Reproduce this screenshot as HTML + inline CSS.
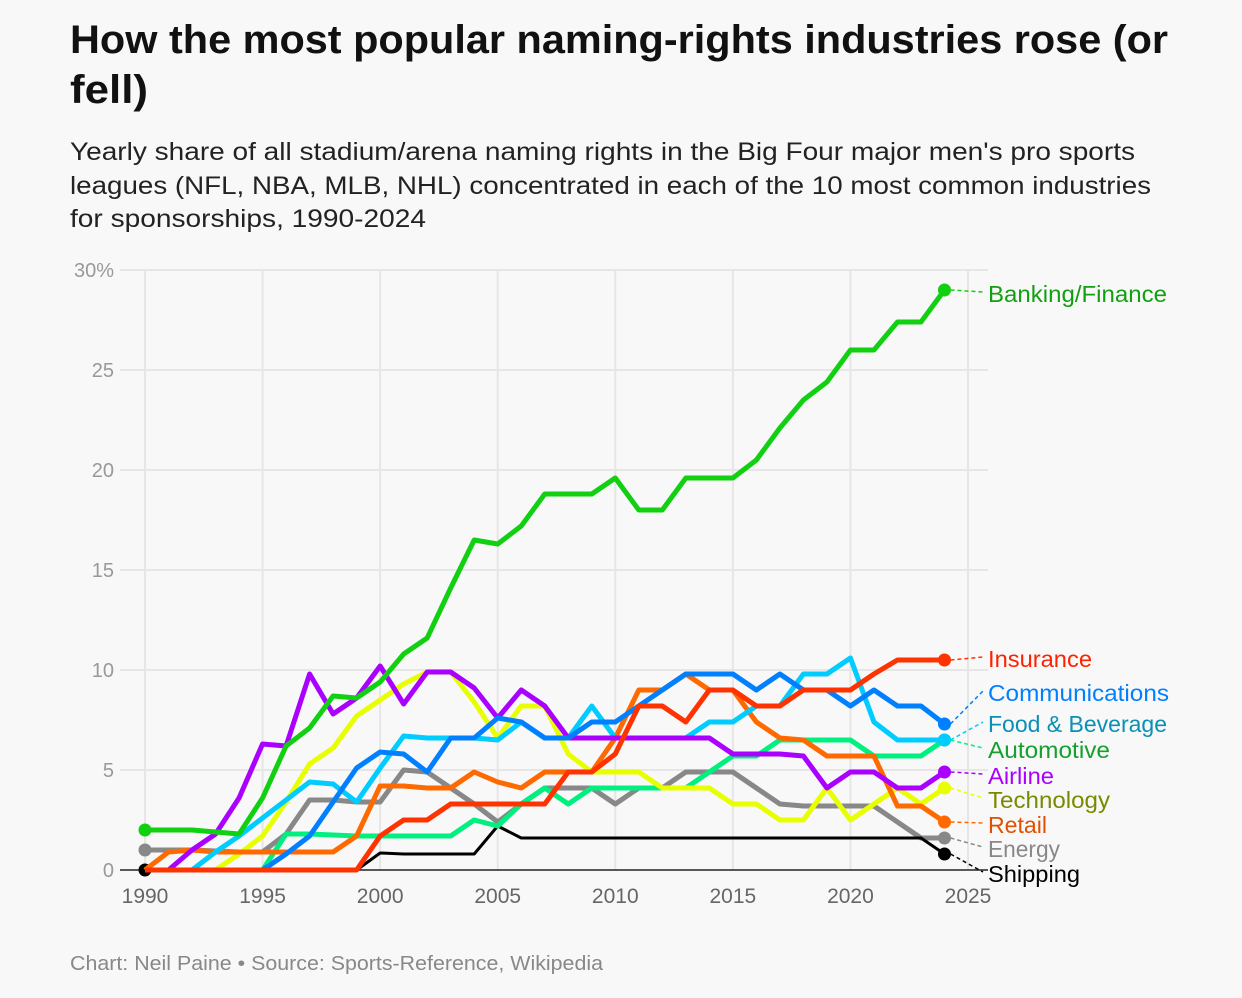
<!DOCTYPE html>
<html><head><meta charset="utf-8"><style>
body{margin:0;background:#f8f8f8;font-family:"Liberation Sans",Arial,sans-serif;}
svg{display:block}
</style></head><body>
<svg width="1242" height="998">
<rect width="1242" height="998" fill="#f8f8f8"/>
<text x="70" y="53" font-size="40" font-weight="bold" fill="#111" textLength="1098" lengthAdjust="spacingAndGlyphs">How the most popular naming-rights industries rose (or</text>
<text x="70" y="103" font-size="40" font-weight="bold" fill="#111" textLength="78" lengthAdjust="spacingAndGlyphs">fell)</text>
<g font-size="25" fill="#222">
<text x="70" y="160" textLength="1065" lengthAdjust="spacingAndGlyphs">Yearly share of all stadium/arena naming rights in the Big Four major men's pro sports</text>
<text x="70" y="194" textLength="1081" lengthAdjust="spacingAndGlyphs">leagues (NFL, NBA, MLB, NHL) concentrated in each of the 10 most common industries</text>
<text x="70" y="227" textLength="356" lengthAdjust="spacingAndGlyphs">for sponsorships, 1990-2024</text>
</g>
<g id="grid"></g>
<g id="series"></g>
<g id="labels"></g>
<text x="70" y="970" font-size="20" fill="#888" textLength="533" lengthAdjust="spacingAndGlyphs">Chart: Neil Paine • Source: Sports-Reference, Wikipedia</text>
</svg>
<script>
const years=[];for(let y=1990;y<=2024;y++)years.push(y);
const yTicks=[0,5,10,15,20,25,30];
const xTicks=[1990,1995,2000,2005,2010,2015,2020,2025];
const banking=[2.0,2.0,2.0,1.9,1.8,3.6,6.2,7.1,8.7,8.6,9.4,10.8,11.6,14.1,16.5,16.3,17.2,18.8,18.8,18.8,19.6,18.0,18.0,19.6,19.6,19.6,20.5,22.1,23.5,24.4,26.0,26.0,27.4,27.4,29.0];
const insurance=[0,0,0,0,0,0,0,0,0,0,1.7,2.5,2.5,3.3,3.3,3.3,3.3,3.3,4.9,4.9,5.8,8.2,8.2,7.4,9.0,9.0,8.2,8.2,9.0,9.0,9.0,9.8,10.5,10.5,10.5];
const communications=[0,0,0,0,0,0,0.8,1.7,3.4,5.1,5.9,5.8,4.9,6.6,6.6,7.6,7.4,6.6,6.6,7.4,7.4,8.2,9.0,9.8,9.8,9.8,9.0,9.8,9.0,9.0,8.2,9.0,8.2,8.2,7.3];
const foodBev=[0,0,0,0.9,1.7,2.6,3.5,4.4,4.3,3.4,5.1,6.7,6.6,6.6,6.6,6.5,7.4,6.6,6.6,8.2,6.6,6.6,6.6,6.6,7.4,7.4,8.2,8.2,9.8,9.8,10.6,7.4,6.5,6.5,6.5];
const automotive=[0,0,0,0,0,0,1.8,1.8,1.75,1.7,1.7,1.7,1.7,1.7,2.5,2.2,3.3,4.1,3.3,4.1,4.1,4.1,4.1,4.1,4.9,5.7,5.7,6.5,6.5,6.5,6.5,5.7,5.7,5.7,6.5];
const airline=[0,0,1.0,1.8,3.6,6.3,6.2,9.8,7.8,8.6,10.2,8.3,9.9,9.9,9.1,7.6,9.0,8.2,6.6,6.6,6.6,6.6,6.6,6.6,6.6,5.8,5.8,5.8,5.7,4.1,4.9,4.9,4.1,4.1,4.9];
const technology=[0,0,0,0,0.8,1.7,3.4,5.3,6.1,7.7,8.5,9.3,9.9,9.9,8.4,6.6,8.2,8.2,5.8,4.9,4.9,4.9,4.1,4.1,4.1,3.3,3.3,2.5,2.5,4.1,2.5,3.3,4.1,3.3,4.1];
const retail=[0,0.9,1.0,0.9,0.9,0.9,0.9,0.9,0.9,1.7,4.2,4.2,4.1,4.1,4.9,4.4,4.1,4.9,4.9,4.9,6.6,9.0,9.0,9.8,9.0,9.0,7.4,6.6,6.5,5.7,5.7,5.7,3.2,3.2,2.4];
const energy=[1.0,1.0,1.0,0.95,0.9,0.9,1.8,3.5,3.5,3.4,3.4,5.0,4.9,4.1,3.3,2.4,3.3,4.1,4.1,4.1,3.3,4.1,4.1,4.9,4.9,4.9,4.1,3.3,3.2,3.2,3.2,3.2,2.4,1.6,1.6];
const shipping=[0,0,0,0,0,0,0,0,0,0,0.85,0.8,0.8,0.8,0.8,2.2,1.6,1.6,1.6,1.6,1.6,1.6,1.6,1.6,1.6,1.6,1.6,1.6,1.6,1.6,1.6,1.6,1.6,1.6,0.8];
const names=["Banking/Finance","Insurance","Communications","Food & Beverage","Automotive","Airline","Technology","Retail","Energy","Shipping"];
const labelWidths=[179,104,181,179,122,66,122,59,72,92];
const ns="http://www.w3.org/2000/svg";
const X=y=>145+(y-1990)*(823/35);
const Y=v=>870-v*20;
function mk(tag,attrs,parent){const e=document.createElementNS(ns,tag);for(const k in attrs)e.setAttribute(k,attrs[k]);parent.appendChild(e);return e;}
const grid=document.getElementById('grid');
xTicks.forEach(t=>{
 const l=mk('line',{x1:X(t),x2:X(t),y1:270,y2:870,stroke:'#e6e6e6','stroke-width':2},grid);
 
 
 const tx=mk('text',{x:X(t),y:903,'text-anchor':'middle','font-size':21,fill:'#666'},grid);
 tx.textContent=t;
 
 
});
yTicks.forEach(t=>{
 const l=mk('line',{x1:120,x2:988,y1:Y(t),y2:Y(t),stroke:t===0?'#222':'#e6e6e6','stroke-width':t===0?1.5:2},grid);
 
 
 const tx=mk('text',{x:114,y:Y(t)+7,'text-anchor':'end','font-size':20,fill:'#999'},grid);
 tx.textContent=t===30?'30%':t;
 
 
});
const series=[
 [energy,'#888888','#888888',849],
 [shipping,'#000000','#000000',874],
 [automotive,'#00f080','#15a030',750],
 [technology,'#e8ff00','#7a8a00',800],
 [retail,'#ff6a00','#e05000',825],
 [foodBev,'#00ccff','#0a8fb5',724],
 [airline,'#aa00ff','#aa00ff',776],
 [communications,'#0080ff','#0080ff',693],
 [insurance,'#ff3300','#ff2200',659],
 [banking,'#11d011','#11a011',294]
];
const labelOrder={294:0,659:1,693:2,724:3,750:4,776:5,800:6,825:7,849:8,874:9};
const sg=document.getElementById('series'),lg=document.getElementById('labels');
series.forEach(([d,c,lc,ly])=>{
 const idx=labelOrder[ly];
 const p=mk('polyline',{points:d.map((v,i)=>X(years[i])+','+Y(v)).join(' '),fill:'none',stroke:c,'stroke-width':c==='#000000'?3:5,'stroke-linejoin':'round'},sg);
 
 
 [0,d.length-1].forEach(i=>{
  if(i===0&&d[0]===0&&c!=='#000000')return;
  const ci=mk('circle',{cx:X(years[i]),cy:Y(d[i]),r:6.5,fill:c},sg);
  
  
 });
 const ex=X(2024),ey=Y(d[d.length-1]);
 const dl=mk('line',{x1:ex+6,y1:ey,x2:983,y2:ly-2,stroke:c,'stroke-width':1.5,'stroke-dasharray':'4,3'},lg);
 
 
 const t=mk('text',{x:988,y:ly+8,'font-size':23,fill:lc,textLength:labelWidths[idx],lengthAdjust:'spacingAndGlyphs'},lg);
 t.textContent=names[idx];
 
 
});
</script>
</body></html>
